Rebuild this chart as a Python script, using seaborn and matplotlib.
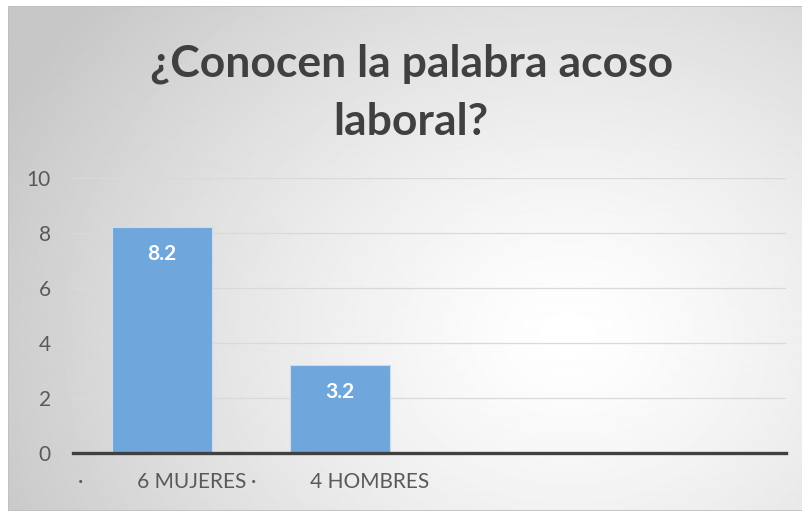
import numpy as np
import pandas as pd
from matplotlib import pyplot as plt
import seaborn as sns

# datos
categorias = ['·          6 MUJERES', '·          4 HOMBRES', ' ', '  ']
valores = [8.2, 3.2, np.nan, np.nan]
etiquetas = ['8.2', '3.2', '', '']
titulo = '¿Conocen la palabra acoso\nlaboral?'
yticks = [0, 2, 4, 6, 8, 10]

sns.set_theme(style='white')
plt.rcParams['font.family'] = ['Lato', 'DejaVu Sans']

df = pd.DataFrame({'cat': categorias, 'val': valores})

fig = plt.figure(figsize=(8.03, 5.11), dpi=100)

# fondo con degradado radial
bg = fig.add_axes([8 / 803, 0, 1 - 8 / 803, 1 - 6 / 511])
h, w = 505, 795
yy, xx = np.mgrid[0:h, 0:w]
cx, cy = 560, 330
r = np.sqrt(((xx - cx) / 620) ** 2 + ((yy - cy) / 520) ** 2)
img = 1.0 - 0.22 * np.clip(r, 0, 1) ** 1.3
bg.imshow(img, cmap='gray', vmin=0, vmax=1, aspect='auto', interpolation='bilinear')
bg.set_axis_off()
bg.add_patch(plt.Rectangle((0, 0), 1, 1, transform=bg.transAxes, fill=False,
                           edgecolor='#bfbfbf', lw=1.2))

ax = fig.add_axes([73 / 803, 1 - 453 / 511, (786 - 73) / 803, (453 - 178) / 511])
ax.patch.set_alpha(0)
sns.barplot(data=df, x='cat', y='val', order=categorias, color='#6fa7dc',
            width=0.56, edgecolor='#c9dcf0', linewidth=0.8, saturation=1, ax=ax, zorder=3)

ax.set_ylim(0, 10)
ax.set_yticks(yticks)
ax.yaxis.grid(True, color='#d9d9d9', lw=0.9, zorder=0)
ax.set_axisbelow(True)
for s in ['top', 'right', 'left']:
    ax.spines[s].set_visible(False)
ax.spines['bottom'].set_color('#404040')
ax.spines['bottom'].set_linewidth(2.4)
ax.spines['bottom'].set_zorder(4)
ax.set_xlabel('')
ax.set_ylabel('')
ax.tick_params(axis='y', length=0, pad=16, labelsize=15, labelcolor='#595959')
ax.tick_params(axis='x', length=0, pad=14, labelsize=15, labelcolor='#595959')

# etiquetas de datos
for i, (v, t) in enumerate(zip(valores, etiquetas)):
    if t:
        ax.text(i, v - 0.98, t, ha='center', va='center', color='white',
                fontsize=15, fontweight='bold', zorder=5)

fig.text(0.512, 1 - 93 / 511, titulo, ha='center', va='center', fontsize=32,
         fontweight='bold', color='#404040', linespacing=1.55)

plt.savefig('out.png', dpi=100)
